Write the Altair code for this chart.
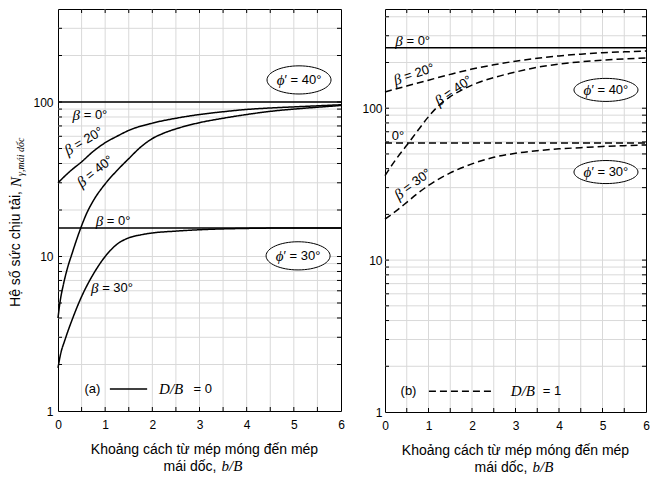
import altair as alt
import pandas as pd

SANS = "Liberation Sans"
SERIF = "Liberation Serif"

# ---------------- data ----------------
X_GRID = [0, 0.5, 1, 1.5, 2, 2.5, 3, 3.5, 4, 4.5, 5, 5.5, 6]
X_LABELS = [0, 1, 2, 3, 4, 5, 6]
Y_GRID = [1, 2, 3, 4, 5, 6, 7, 8, 9, 10, 20, 30, 40, 50, 60, 70, 80, 90, 100, 200, 300, 400]
Y_LABELS = [1, 10, 100]

# (a) D/B = 0
A_FLAT_X = [0, 6]
A_PHI40_B0 = [100, 100]
A_PHI40_B20_X = [0, 0.25, 0.5, 0.75, 1, 1.25, 1.5, 2, 2.5, 3, 3.5, 4, 4.5, 5, 5.5, 6]
A_PHI40_B20 = [30, 35.5, 41, 48, 54.5, 60, 65.5, 73, 78.5, 83, 86.5, 89.5, 91.5, 93, 94.5, 96]
A_PHI40_B40_X = [0, 0.04, 0.12, 0.2, 0.3, 0.4, 0.5, 0.6, 0.75, 1, 1.25, 1.5, 1.75, 2, 2.25, 2.5, 3, 3.5, 4, 4.5, 5, 5.5, 6]
A_PHI40_B40 = [4.0, 5.0, 6.7, 8.4, 10.5, 13, 15.8, 18.8, 23, 29.5, 36, 43, 51, 58, 63, 67, 73.5, 78.5, 83, 87, 90, 92.5, 95]
A_PHI30_B0 = [15.3, 15.3]
A_PHI30_B30_X = [0, 0.05, 0.15, 0.3, 0.5, 0.75, 1, 1.25, 1.5, 1.75, 2, 2.5, 3, 4, 5, 6]
A_PHI30_B30 = [1.9, 2.3, 2.9, 3.9, 5.5, 7.7, 10.0, 12.0, 13.2, 13.8, 14.2, 14.6, 14.9, 15.2, 15.3, 15.3]

# (b) D/B = 1
B_FLAT_X = [0, 6]
B_PHI40_B0 = [250, 250]
B_PHI40_B20_X = [0, 0.5, 1, 1.5, 2, 2.5, 3, 3.5, 4, 4.5, 5, 5.5, 6]
B_PHI40_B20 = [128, 140, 153, 167, 181, 193, 204, 213, 221, 227, 232, 235, 238]
B_PHI40_B40_X = [0, 0.25, 0.5, 0.75, 1, 1.25, 1.5, 2, 2.5, 3, 3.5, 4, 4.5, 5, 5.5, 6]
B_PHI40_B40 = [36, 46, 57, 71, 88, 105, 119, 142, 159, 173, 186, 195, 202, 207, 211, 214]
B_PHI30_B0 = [59, 59]
B_PHI30_B30_X = [0, 0.25, 0.5, 0.75, 1, 1.5, 2, 2.5, 3, 3.5, 4, 4.5, 5, 5.5, 6]
B_PHI30_B30 = [18.6, 21, 24, 27.5, 31, 37.5, 43, 47.5, 50.5, 52.5, 54, 55, 56, 56.7, 57.3]

# annotation texts
A_LABEL_TEXTS = ["= 0°", "= 20°", "= 40°", "= 0°", "= 30°"]
B_LABEL_TEXTS = ["= 0°", "= 20°", "= 40°", "0°", "= 30°"]
PHI_TEXTS = ["′ = 40°", "′ = 30°"]


def curves_df(items):
    rows = []
    for name, style, xs, ys in items:
        for xv, yv in zip(xs, ys):
            rows.append({"b": xv, "N": yv, "curve": name, "style": style})
    return pd.DataFrame(rows)


A_CURVES = curves_df([
    ("p40b0", "solid", A_FLAT_X, A_PHI40_B0),
    ("p40b20", "solid", A_PHI40_B20_X, A_PHI40_B20),
    ("p40b40", "solid", A_PHI40_B40_X, A_PHI40_B40),
    ("p30b0", "solid", A_FLAT_X, A_PHI30_B0),
    ("p30b30", "solid", A_PHI30_B30_X, A_PHI30_B30),
])
B_CURVES = curves_df([
    ("p40b0", "solid", B_FLAT_X, B_PHI40_B0),
    ("p40b20", "dashed", B_PHI40_B20_X, B_PHI40_B20),
    ("p40b40", "dashed", B_PHI40_B40_X, B_PHI40_B40),
    ("p30b0", "dashed", B_FLAT_X, B_PHI30_B0),
    ("p30b30", "dashed", B_PHI30_B30_X, B_PHI30_B30),
])

# annotation placement (data coordinates) and styling
A_LABEL_POS = [  # (b, N, angle, has_beta, dx)
    (0.68, 83, 0, True, -10),
    (0.55, 56, 330, True, -13.7),
    (0.79, 35.7, 322, True, -13.7),
    (1.17, 17.0, 0, True, -10),
    (1.15, 6.25, 0, True, -13.7),
]
B_LABEL_POS = [
    (0.64, 277, 0, True, -10),
    (0.67, 168, 342, True, -13.7),
    (1.58, 131, 326, True, -13.7),
    (0.30, 65.6, 0, False, 0),
    (0.64, 31.7, 324, True, -13.7),
]
A_ELL_POS = [(5.11, 139), (5.09, 10.1)]
B_ELL_POS = [(5.08, 132), (5.08, 38)]
A_LEG = dict(tag="(a)", tag_x=0.73, v=1.39, x1=1.1, x2=1.89, db_x=2.40, eq_x=3.07, eq="= 0", style="solid")
B_LEG = dict(tag="(b)", tag_x=0.54, v=1.37, x1=1.01, x2=2.51, db_x=3.17, eq_x=3.84, eq="= 1", style="dashed")

DASH_SCALE = alt.Scale(domain=["solid", "dashed"], range=[[1, 0], [7, 4]])
GRID_COLOR = "#d9d9d9"


def panel(curves, label_texts, label_pos, ell_pos, leg, W, H, ymax, ylab_pad, tshift, ell_ry, is_left):
    xs = alt.Scale(domain=[0, 6], nice=False, zero=False)
    ys = alt.Scale(type="log", domain=[1, ymax], nice=False)
    xax = alt.Axis(values=X_LABELS, format="d", grid=False, ticks=False, domain=False,
                   labelPadding=8, labelFontSize=12, labelFont=SANS, labelColor="black",
                   labelFlush=False, labelOverlap=False, title=None)
    yax = alt.Axis(values=Y_LABELS, format="d", grid=False, ticks=False, domain=False,
                   labelPadding=ylab_pad, labelFontSize=12, labelFont=SANS, labelColor="black",
                   labelOverlap=False, labelBaseline="middle", title=None)

    def X(f):
        return alt.X(f"{f}:Q", scale=xs, axis=xax)

    def Y(f):
        return alt.Y(f"{f}:Q", scale=ys, axis=yax)

    layers = []
    # grid
    xg = pd.DataFrame({"g": X_GRID[1:-1]})
    yg = pd.DataFrame({"g": [v for v in Y_GRID if 1 < v < ymax]})
    layers.append(alt.Chart(xg).mark_rule(color=GRID_COLOR, strokeWidth=1).encode(
        x=X("g"), y=alt.value(0), y2=alt.value(H)))
    layers.append(alt.Chart(yg).mark_rule(color=GRID_COLOR, strokeWidth=1).encode(
        y=Y("g"), x=alt.value(0), x2=alt.value(W)))

    layers.append(
        alt.Chart(curves).mark_line(color="black", strokeWidth=1.5, interpolate="monotone").encode(
            x=X("b"), y=Y("N"), detail="curve:N",
            strokeDash=alt.StrokeDash("style:N", scale=DASH_SCALE, legend=None),
        )
    )
    # inward ticks
    layers.append(alt.Chart(xg).mark_rule(color="black", strokeWidth=1).encode(
        x=X("g"), y=alt.value(H), y2=alt.value(H - 4)))
    layers.append(alt.Chart(xg).mark_rule(color="black", strokeWidth=1).encode(
        x=X("g"), y=alt.value(0), y2=alt.value(4)))
    layers.append(alt.Chart(yg).mark_rule(color="black", strokeWidth=1).encode(
        y=Y("g"), x=alt.value(0), x2=alt.value(4)))
    layers.append(alt.Chart(yg).mark_rule(color="black", strokeWidth=1).encode(
        y=Y("g"), x=alt.value(W - 4), x2=alt.value(W)))

    # ellipses with phi labels
    edf = pd.DataFrame({"b": [p[0] for p in ell_pos], "N": [p[1] for p in ell_pos],
                        "phi": ["ϕ", "ϕ"], "rest": PHI_TEXTS})
    path = f"M -1 0 A 1 {ell_ry} 0 1 0 1 0 A 1 {ell_ry} 0 1 0 -1 0 Z"
    layers.append(alt.Chart(edf).mark_point(shape=path, size=64 * 64, filled=True, fill="white",
                                            stroke="black", strokeWidth=1, opacity=1).encode(
        x=X("b"), y=Y("N")))
    layers.append(alt.Chart(edf).mark_text(font=SERIF, fontStyle="italic", fontSize=15, align="right",
                                           baseline="middle", dx=-14.6, color="black").encode(
        x=X("b"), y=Y("N"), text="phi:N"))
    layers.append(alt.Chart(edf).mark_text(font=SANS, fontSize=13, align="left",
                                           baseline="middle", dx=-14.6, color="black").encode(
        x=X("b"), y=Y("N"), text="rest:N"))

    # beta labels
    for txt, (bx, nv, ang, has_beta, dx) in zip(label_texts, label_pos):
        ldf = pd.DataFrame({"b": [bx], "N": [nv], "beta": ["β"], "rest": [txt]})
        if has_beta:
            layers.append(alt.Chart(ldf).mark_text(font=SERIF, fontStyle="italic", fontSize=15,
                                                   align="right", baseline="middle", dx=dx, angle=ang,
                                                   color="black").encode(
                x=X("b"), y=Y("N"), text="beta:N"))
            layers.append(alt.Chart(ldf).mark_text(font=SANS, fontSize=13, align="left",
                                                   baseline="middle", dx=dx + 3.6, angle=ang,
                                                   color="black").encode(
                x=X("b"), y=Y("N"), text="rest:N"))
        else:
            layers.append(alt.Chart(ldf).mark_text(font=SANS, fontSize=13, align="center",
                                                   baseline="middle", angle=ang, color="black").encode(
                x=X("b"), y=Y("N"), text="rest:N"))

    # legend
    gdf = pd.DataFrame({"tx": [leg["tag_x"]], "x1": [leg["x1"]], "x2": [leg["x2"]], "v": [leg["v"]],
                        "dbx": [leg["db_x"]], "eqx": [leg["eq_x"]], "tag": [leg["tag"]],
                        "db": ["D/B"], "eq": [leg["eq"]], "style": [leg["style"]]})
    layers.append(alt.Chart(gdf).mark_text(font=SANS, fontSize=13, baseline="middle", color="black").encode(
        x=X("tx"), y=Y("v"), text="tag:N"))
    layers.append(alt.Chart(gdf).mark_rule(color="black", strokeWidth=1.5).encode(
        x=X("x1"), x2="x2:Q", y=Y("v"),
        strokeDash=alt.StrokeDash("style:N", scale=DASH_SCALE, legend=None)))
    layers.append(alt.Chart(gdf).mark_text(font=SERIF, fontStyle="italic", fontSize=15, baseline="middle",
                                           color="black").encode(
        x=X("dbx"), y=Y("v"), text="db:N"))
    layers.append(alt.Chart(gdf).mark_text(font=SANS, fontSize=13, baseline="middle", color="black").encode(
        x=X("eqx"), y=Y("v"), text="eq:N"))

    # x-axis title (two lines)
    c = W / 2 + tshift
    t1 = pd.DataFrame({"t": ["Khoảng cách từ mép móng đến mép"]})
    t2 = pd.DataFrame({"t": ["mái dốc,"]})
    t3 = pd.DataFrame({"t": ["b/B"]})
    layers.append(alt.Chart(t1).mark_text(font=SANS, fontSize=14, align="center", baseline="alphabetic",
                                          color="black").encode(
        x=alt.value(c), y=alt.value(H + 43), text="t:N"))
    layers.append(alt.Chart(t2).mark_text(font=SANS, fontSize=14, align="right", baseline="alphabetic",
                                          color="black").encode(
        x=alt.value(c + 12), y=alt.value(H + 60), text="t:N"))
    layers.append(alt.Chart(t3).mark_text(font=SERIF, fontStyle="italic", fontSize=15, align="left",
                                          baseline="alphabetic", color="black").encode(
        x=alt.value(c + 17), y=alt.value(H + 60), text="t:N"))

    if is_left:
        y1 = pd.DataFrame({"t": ["Hệ số sức chịu tải,"]})
        y2 = pd.DataFrame({"t": ["N"]})
        y3 = pd.DataFrame({"t": ["γ,mái dốc"]})
        layers.append(alt.Chart(y1).mark_text(font=SANS, fontSize=14, align="right", baseline="alphabetic",
                                              angle=270, color="black").encode(
            x=alt.value(-38), y=alt.value(182), text="t:N"))
        layers.append(alt.Chart(y2).mark_text(font=SERIF, fontStyle="italic", fontSize=15, align="left",
                                              baseline="alphabetic", angle=270, color="black").encode(
            x=alt.value(-37), y=alt.value(178), text="t:N"))
        layers.append(alt.Chart(y3).mark_text(font=SERIF, fontStyle="italic", fontSize=10, align="left",
                                              baseline="alphabetic", angle=270, color="black").encode(
            x=alt.value(-34), y=alt.value(167), text="t:N"))

    return alt.layer(*layers).properties(width=W, height=H)


left = panel(A_CURVES, A_LABEL_TEXTS, A_LABEL_POS, A_ELL_POS, A_LEG, 283, 402, 400, 5, 5, 0.44, True)
right = panel(B_CURVES, B_LABEL_TEXTS, B_LABEL_POS, B_ELL_POS, B_LEG, 261, 403, 450, 3, 0, 0.36, False)

chart = (
    alt.hconcat(left, right, spacing=16)
    .resolve_scale(x="independent", y="independent", strokeDash="shared")
    .properties(padding=0, background="white")
    .configure_view(stroke="black", strokeWidth=1)
)

chart.save("out.html", embed_options={"renderer": "svg", "actions": False})
